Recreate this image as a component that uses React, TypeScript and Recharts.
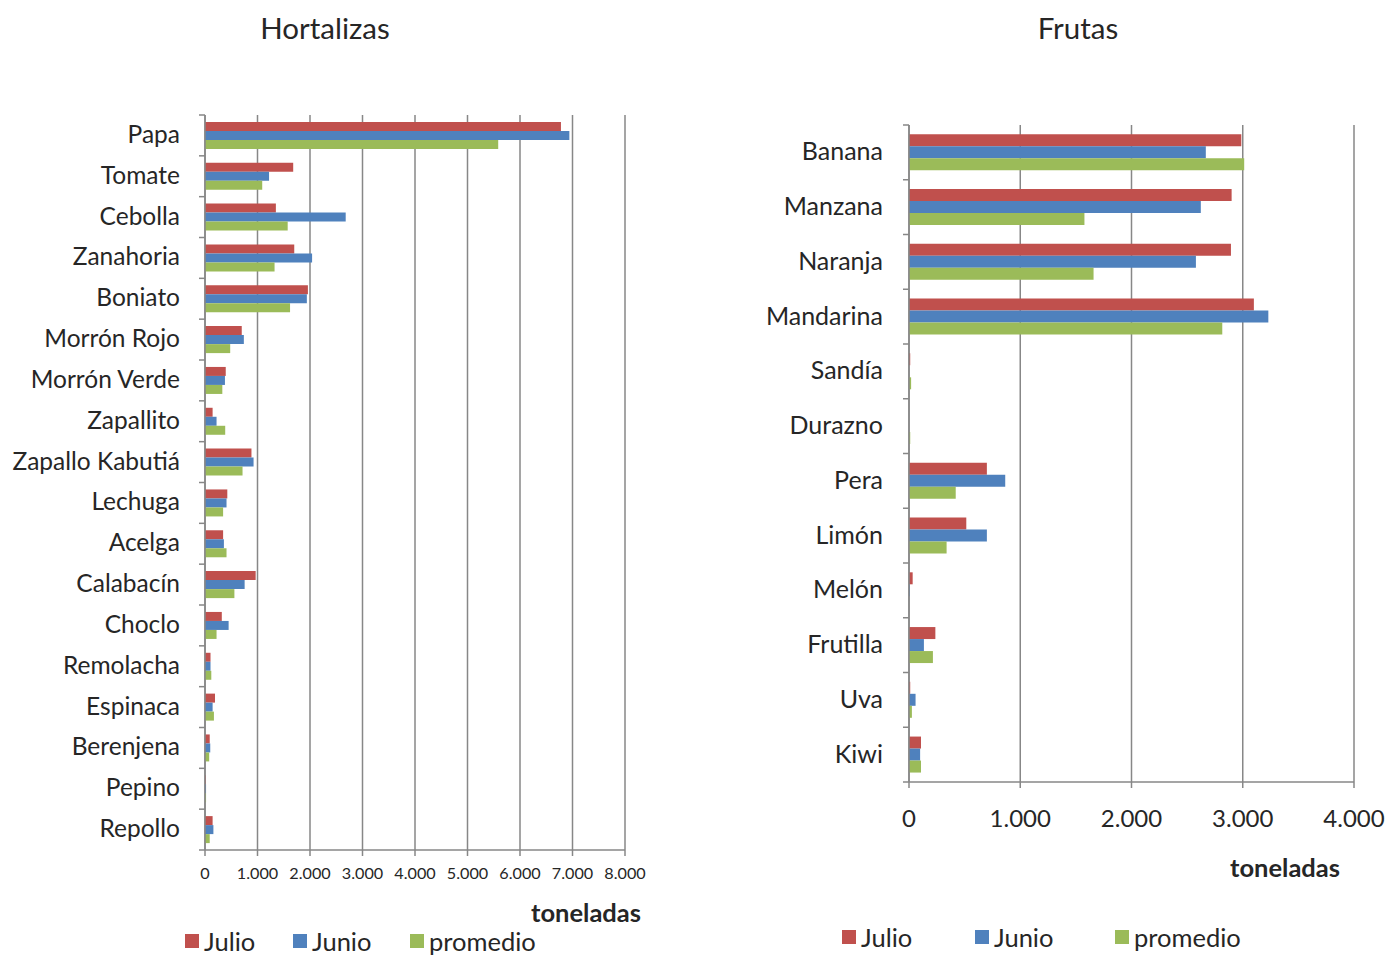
import React from 'react';
import { BarChart, Bar, XAxis, YAxis, CartesianGrid } from 'recharts';

// ---------- Data ----------
const hortCategories = [
  'Papa', 'Tomate', 'Cebolla', 'Zanahoria', 'Boniato', 'Morrón Rojo', 'Morrón Verde',
  'Zapallito', 'Zapallo Kabutiá', 'Lechuga', 'Acelga', 'Calabacín', 'Choclo',
  'Remolacha', 'Espinaca', 'Berenjena', 'Pepino', 'Repollo',
];
const hortJulio = [6780, 1680, 1350, 1700, 1960, 700, 395, 145, 885, 425, 345, 965, 320, 105, 190, 90, 15, 145];
const hortJunio = [6940, 1220, 2680, 2040, 1940, 740, 380, 220, 925, 410, 360, 755, 450, 105, 145, 100, 20, 160];
const hortPromedio = [5585, 1090, 1575, 1325, 1620, 480, 330, 385, 715, 345, 410, 560, 220, 120, 170, 80, 20, 90];
const hortTicks = [0, 1000, 2000, 3000, 4000, 5000, 6000, 7000, 8000];

const frutaCategories = [
  'Banana', 'Manzana', 'Naranja', 'Mandarina', 'Sandía', 'Durazno', 'Pera',
  'Limón', 'Melón', 'Frutilla', 'Uva', 'Kiwi',
];
const frutaJulio = [2987, 2900, 2894, 3100, 11, 0, 700, 515, 33, 237, 11, 108];
const frutaJunio = [2668, 2623, 2579, 3230, 0, 0, 865, 700, 7, 134, 59, 100];
const frutaPromedio = [3013, 1577, 1659, 2816, 19, 11, 420, 338, 0, 215, 26, 108];
const frutaTicks = [0, 1000, 2000, 3000, 4000];

const seriesKeys = ['Julio', 'Junio', 'promedio'];
const seriesColors = ['#C0504D', '#4F81BD', '#9BBB59'];

// ---------- Styling ----------
const FONT = 'Lato, "Open Sans", "DejaVu Sans", sans-serif';
const GRID = '#878787';
const TEXT = '#262626';

function fmt(v: number): string {
  if (v >= 1000) {
    const k = Math.floor(v / 1000);
    const r = v % 1000;
    return `${k}.${String(r).padStart(3, '0')}`;
  }
  return String(v);
}

function makeRows(cats: string[], a: number[], b: number[], c: number[]) {
  return cats.map((name, i) => ({ name, Julio: a[i], Junio: b[i], promedio: c[i] }));
}

function CategoryTick(props: any) {
  const { x, y, payload, index, band, count, fontSize, labelGap } = props;
  return (
    <g>
      <line x1={x - 6} x2={x} y1={y - band / 2} y2={y - band / 2} stroke={GRID} strokeWidth={1.5} />
      {index === count - 1 && (
        <line x1={x - 6} x2={x} y1={y + band / 2} y2={y + band / 2} stroke={GRID} strokeWidth={1.5} />
      )}
      <text
        x={x - labelGap}
        y={y - 2}
        textAnchor="end"
        dominantBaseline="central"
        fontSize={fontSize}
        fill={TEXT}
        fontFamily={FONT}
      >
        {payload.value}
      </text>
    </g>
  );
}

function ValueTick(props: any) {
  const { x, y, payload, fontSize, offset } = props;
  return (
    <g>
      <line x1={x} x2={x} y1={y} y2={y + 6} stroke={GRID} strokeWidth={1.5} />
      <text
        x={x}
        y={y + offset}
        textAnchor="middle"
        dominantBaseline="central"
        fontSize={fontSize}
        fill={TEXT}
        fontFamily={FONT}
      >
        {fmt(payload.value)}
      </text>
    </g>
  );
}

type PanelProps = {
  title: string;
  left: number;
  width: number;
  height: number;
  titleCenter: number;
  rows: any[];
  ticks: number[];
  margin: { top: number; right: number; bottom: number; left: number };
  yAxisWidth: number;
  xAxisHeight: number;
  catFont: number;
  labelGap: number;
  tickFont: number;
  tickOffset: number;
  unitRight: number;
  unitTop: number;
  legendTop: number;
  legendOffsets: number[];
  legendFont: number;
};

function Panel(p: PanelProps) {
  const plotH = p.height - p.margin.top - p.margin.bottom - p.xAxisHeight;
  const band = plotH / p.rows.length;
  return (
    <div style={{ position: 'absolute', left: p.left, top: 0, width: p.width, height: p.height }}>
      <div
        style={{
          position: 'absolute',
          left: p.titleCenter - 150,
          width: 300,
          top: 11,
          textAlign: 'center',
          fontFamily: FONT,
          fontSize: 29.5,
          color: TEXT,
          lineHeight: '34px',
        }}
      >
        {p.title}
      </div>
      <BarChart
        width={p.width}
        height={p.height}
        data={p.rows}
        layout="vertical"
        margin={p.margin}
        barCategoryGap="17%"
        barGap={0}
      >
        <CartesianGrid horizontal={false} stroke={GRID} strokeWidth={1.5} />
        <XAxis
          type="number"
          domain={[p.ticks[0], p.ticks[p.ticks.length - 1]]}
          ticks={p.ticks}
          interval={0}
          height={p.xAxisHeight}
          axisLine={{ stroke: GRID, strokeWidth: 1.5 }}
          tickLine={false}
          tickSize={0}
          tickMargin={0}
          tick={<ValueTick fontSize={p.tickFont} offset={p.tickOffset} />}
        />
        <YAxis
          type="category"
          dataKey="name"
          width={p.yAxisWidth}
          interval={0}
          axisLine={{ stroke: GRID, strokeWidth: 1.5 }}
          tickLine={false}
          tickSize={0}
          tickMargin={0}
          tick={<CategoryTick band={band} count={p.rows.length} fontSize={p.catFont} labelGap={p.labelGap} />}
        />
        {seriesKeys.map((k, i) => (
          <Bar key={k} dataKey={k} fill={seriesColors[i]} isAnimationActive={false} />
        ))}
      </BarChart>
      <div
        style={{
          position: 'absolute',
          right: p.width - p.unitRight,
          top: p.unitTop,
          fontFamily: FONT,
          fontSize: 25.5,
          fontWeight: 'bold',
          color: TEXT,
          lineHeight: '28px',
        }}
      >
        toneladas
      </div>
      <div style={{ position: 'absolute', left: 0, top: p.legendTop, width: p.width, height: 28 }}>
        {seriesKeys.map((k, i) => (
          <div
            key={k}
            style={{
              position: 'absolute',
              left: p.legendOffsets[i],
              top: 0,
              height: 28,
              display: 'flex',
              alignItems: 'center',
              fontFamily: FONT,
              fontSize: p.legendFont,
              color: TEXT,
              lineHeight: '28px',
              whiteSpace: 'nowrap',
            }}
          >
            <span style={{ display: 'inline-block', width: 14, height: 14, background: seriesColors[i], marginRight: 5 }} />
            {k}
          </div>
        ))}
      </div>
    </div>
  );
}

export default function App() {
  const hortRows = makeRows(hortCategories, hortJulio, hortJunio, hortPromedio);
  const frutaRows = makeRows(frutaCategories, frutaJulio, frutaJunio, frutaPromedio);
  return (
    <div style={{ position: 'absolute', left: 0, top: 0, width: 1385, height: 956, background: '#fff', overflow: 'hidden' }}>
      <Panel
        title="Hortalizas"
        left={0}
        width={660}
        height={956}
        titleCenter={325}
        rows={hortRows}
        ticks={hortTicks}
        margin={{ top: 115, right: 35, bottom: 46, left: 0 }}
        yAxisWidth={205}
        xAxisHeight={60}
        catFont={24.5}
        labelGap={25}
        tickFont={16.2}
        tickOffset={22}
        unitRight={641}
        unitTop={898}
        legendTop={927}
        legendOffsets={[185, 293, 410]}
        legendFont={25.5}
      />
      <Panel
        title="Frutas"
        left={700}
        width={685}
        height={956}
        titleCenter={378}
        rows={frutaRows}
        ticks={frutaTicks}
        margin={{ top: 125, right: 31, bottom: 114, left: 0 }}
        yAxisWidth={209}
        xAxisHeight={60}
        catFont={25}
        labelGap={26}
        tickFont={24}
        tickOffset={35}
        unitRight={640}
        unitTop={853}
        legendTop={923}
        legendOffsets={[142, 275, 415]}
        legendFont={25.5}
      />
    </div>
  );
}
